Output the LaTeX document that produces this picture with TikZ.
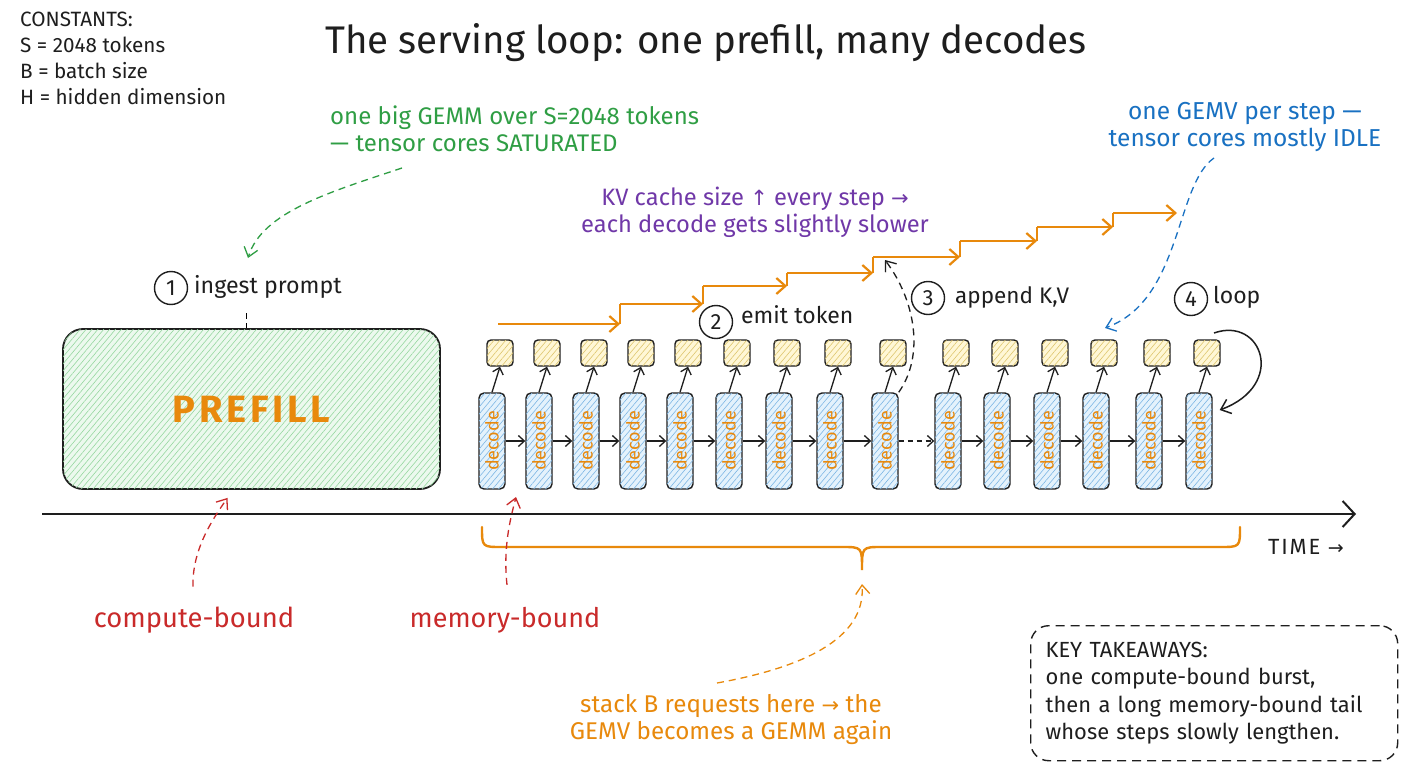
\documentclass[tikz,border=0pt]{standalone}
\usepackage{fontspec}
\setmainfont{Fira Sans}
\newfontfamily\symf{DejaVu Sans}
\usetikzlibrary{arrows.meta,patterns.meta,calc}
\newcommand{\fsz}[2]{\fontsize{#1}{#2}\selectfont}
\definecolor{ink}{RGB}{30,30,30}
\definecolor{gtext}{RGB}{47,158,68}
\definecolor{ptext}{RGB}{112,56,168}
\definecolor{btext}{RGB}{25,113,194}
\definecolor{rtext}{RGB}{201,42,42}
\definecolor{otext}{RGB}{232,137,12}
\definecolor{gfill}{RGB}{236,249,238}
\definecolor{ghatch}{RGB}{150,215,160}
\definecolor{bfill}{RGB}{228,242,252}
\definecolor{bhatch}{RGB}{125,182,228}
\definecolor{yfill}{RGB}{255,247,214}
\definecolor{yhatch}{RGB}{222,198,110}
\tikzset{
  txt/.style={inner sep=0pt, text=ink},
  dec/.style={draw=ink, line width=1.4pt, rounded corners=5pt, minimum width=26pt, minimum height=96pt, inner sep=0pt, fill=bfill,
    postaction={pattern={Lines[angle=50,distance=4.5pt,line width=0.6pt]}, pattern color=bhatch},
    label={[rotate=90,text=otext,font=\fsz{18}{20}]center:decode}},
  tok/.style={draw=ink, line width=1.4pt, rounded corners=4pt, minimum size=26pt, inner sep=0pt, fill=yfill,
    postaction={pattern={Lines[angle=50,distance=4.5pt,line width=0.6pt]}, pattern color=yhatch}},
  arr/.style={draw=ink, line width=1.3pt, -{Straight Barb[length=6pt,width=11pt]}},
  num/.style={circle, draw=ink, line width=1.4pt, minimum size=33pt, inner sep=0pt, font=\fsz{22}{24}, text=ink},
  stair/.style={draw=otext, line width=2.2pt, -{Straight Barb[length=9pt,width=16pt]}},
  stairline/.style={draw=otext, line width=2.2pt},
  dasharr/.style={line width=1.3pt, dashed, dash pattern=on 7pt off 5pt, -{Straight Barb[length=9pt,width=14pt]}},
}
\begin{document}
\begin{tikzpicture}[x=1pt,y=-1pt]
\useasboundingbox (0,0) rectangle (1408,768);
\fill[white] (0,0) rectangle (1408,768);

% constants
\node[txt, anchor=north west, align=left, font=\fsz{20.7}{26}] (const) at (20,12)
  {CONSTANTS:\\S = 2048 tokens\\B = batch size\\H = hidden dimension};

% title
\node[txt, font=\fsz{38.5}{42}] (title) at (706,43) {The serving loop: one prefill, many decodes};

% green annotation
\node[txt, anchor=north west, align=left, text=gtext, font=\fsz{24}{27}] (gtxt) at (330,106)
  {one big GEMM over S=2048 tokens\\— tensor cores SATURATED};
\coordinate (gs) at (402,168);
\coordinate (ge) at (248,258);
\draw[dasharr, draw=gtext] (gs) .. controls (330,192) and (262,212) .. (ge);

% prefill
\node[draw=ink, line width=1.8pt, rounded corners=20pt, minimum width=377pt, minimum height=160pt, inner sep=0pt,
  fill=gfill, postaction={pattern={Lines[angle=50,distance=4.5pt,line width=0.6pt]}, pattern color=ghatch},
  text=otext, font=\fsz{38}{42}\bfseries\addfontfeatures{LetterSpace=10}] (prefill) at (251.5,409) {PREFILL};

% step 1
\node[num] (c1) at (171,288) {1};
\node[txt, anchor=west, font=\fsz{23.2}{26}] (l1) at (194,287) {ingest prompt};
\draw[line width=1.3pt, dashed, dash pattern=on 6pt off 4pt] ($(prefill.north)+(-5,-15)$) -- ($(prefill.north)+(-5,0)$);

% decode chain
\foreach \x [count=\i] in {492,539,586,633,680,729,779,830,885,948,997,1047,1096,1149,1199}{
  \node[dec] (d\i) at (\x,441) {};
  \node[tok] (t\i) at (\x+8,353) {};
  \draw[arr] (d\i.north) -- (t\i.south);
}
\foreach \i in {1,...,8,10,11,12,13,14}{
  \pgfmathtruncatemacro{\j}{\i+1}
  \draw[arr] (d\i) -- (d\j);
}
\draw[arr, dashed, dash pattern=on 5pt off 4pt] (d9) -- (d10);

% staircase
\coordinate (s0) at (498,324);
\coordinate (s1) at (620,324); \coordinate (r1) at (620,304);
\coordinate (s2) at (703,304); \coordinate (r2) at (703,286);
\coordinate (s3) at (787,286); \coordinate (r3) at (787,273);
\coordinate (s4) at (873,273); \coordinate (r4) at (873,257);
\coordinate (s5) at (960,257); \coordinate (r5) at (960,241);
\coordinate (s6) at (1037,241); \coordinate (r6) at (1037,227);
\coordinate (s7) at (1113,227); \coordinate (r7) at (1113,213);
\coordinate (s8) at (1177,213);
\draw[stair] (s0) -- (s1); \draw[stairline] (s1) -- (r1);
\draw[stair] (r1) -- (s2); \draw[stairline] (s2) -- (r2);
\draw[stair] (r2) -- (s3); \draw[stairline] (s3) -- (r3);
\draw[stair] (r3) -- (s4); \draw[stairline] (s4) -- (r4);
\draw[stair] (r4) -- (s5); \draw[stairline] (s5) -- (r5);
\draw[stair] (r5) -- (s6); \draw[stairline] (s6) -- (r6);
\draw[stair] (r6) -- (s7); \draw[stairline] (s7) -- (r7);
\draw[stair] (r7) -- (s8);

% purple annotation
\node[txt, align=center, text=ptext, font=\fsz{23.7}{27}] (ptxt) at (755,212)
  {KV cache size {\symf\fsz{21}{27}↑} every step {\symf\fsz{21}{27}→}\\each decode gets slightly slower};

% step 2
\node[num] (c2) at (716,322) {2};
\node[txt, anchor=west, font=\fsz{23}{26}] (l2) at (741,315) {emit token};

% step 3
\node[num] (c3) at (928,298) {3};
\node[txt, anchor=west, font=\fsz{22.5}{26}] (l3) at (955,297) {append K,V};
\coordinate (k3) at (885,260);
\draw[dasharr, draw=ink] (d9.north east) .. controls (925,355) and (915,300) .. (k3);

% step 4
\node[num] (c4) at (1191,299) {4};
\node[txt, anchor=west, font=\fsz{23}{26}] (l4) at (1213,297) {loop};
\coordinate (lp) at (1214,333);
\draw[arr, line width=1.5pt, -{Straight Barb[length=9pt,width=15pt]}] (lp) .. controls (1262,316) and (1287,385) .. ($(d15.east)+(7,-31)$);

% blue annotation
\node[txt, align=center, text=btext, font=\fsz{24.5}{27}] (btxt) at (1245,127)
  {one GEMV per step —\\tensor cores mostly IDLE};
\coordinate (bs) at (1214,158);
\coordinate (be) at (1105,328);
\draw[dasharr, draw=btext] (bs) .. controls (1175,185) and (1182,300) .. (be);

% time axis
\coordinate (ax0) at (42,514);
\coordinate (ax1) at (1356,514);
\draw[line width=2pt, draw=ink, -{Straight Barb[length=12pt,width=26pt]}] (ax0) -- (ax1);
\node[txt, font=\fsz{22}{24}\addfontfeatures{LetterSpace=8}] (time) at (1306,547) {TIME {\symf\fsz{19}{24}→}};

% brace
\draw[otext, line width=2.4pt, line cap=round] (482,527) .. controls (482,547) .. (502,547) -- (842,547)
  .. controls (862,547) .. (862,570) .. controls (862,547) .. (882,547) -- (1220,547) .. controls (1240,547) .. (1240,527);
\coordinate (bt) at (862,584);

% red annotations
\node[txt, text=rtext, font=\fsz{27.4}{32}] (cb) at (194,620) {compute-bound};
\node[txt, text=rtext, font=\fsz{27}{32}] (mb) at (505,620) {memory-bound};
\draw[dasharr, draw=rtext] ($(cb.north)+(-1,-20)$) .. controls (192,550) and (212,520) .. ($(prefill.south)+(-24,8)$);
\draw[dasharr, draw=rtext] ($(mb.north)+(2,-22)$) .. controls (503,548) and (510,520) .. (516,497);

% orange bottom annotation
\node[txt, align=center, text=otext, font=\fsz{24.2}{27}] (otxt) at (731,719)
  {stack B requests here {\symf\fsz{21}{27}→} the\\GEMV becomes a GEMM again};
\coordinate (os) at (717,683);
\draw[dasharr, draw=otext] (os) .. controls (800,668) and (866,640) .. (bt);

% key takeaways
\node[draw=ink, line width=1.4pt, dashed, dash pattern=on 9pt off 6pt, rounded corners=18pt, anchor=north west,
  minimum width=367pt, minimum height=135pt, inner xsep=15pt, text width=337pt, align=left,
  text=ink, font=\fsz{21.9}{27.5}] (kt) at (1030,625)
  {KEY TAKEAWAYS:\\one compute-bound burst,\\then a long memory-bound tail\\whose steps slowly lengthen.};
\end{tikzpicture}
\end{document}
